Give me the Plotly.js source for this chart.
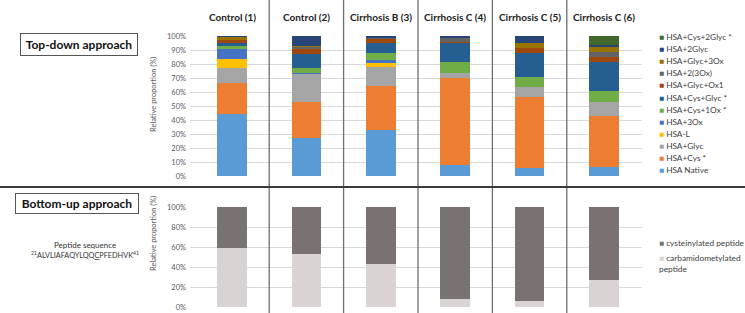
<!DOCTYPE html>
<html>
<head>
<meta charset="utf-8">
<script src="https://cdn.plot.ly/plotly-3.0.1.min.js"></script>
<style>html,body{margin:0;padding:0;background:#fff;}#chart{width:745px;height:313px;}</style>
</head>
<body>
<div id="chart"></div>
<script>
// ---------- DATA ----------
const samples = ["Control (1)", "Control (2)", "Cirrhosis B (3)", "Cirrhosis C (4)", "Cirrhosis C (5)", "Cirrhosis C (6)"];

// Top-down series (bottom of stack first), values in %
const seriesNames = ["HSA Native", "HSA+Cys *", "HSA+Glyc", "HSA-L", "HSA+3Ox", "HSA+Cys+1Ox *",
  "HSA+Cys+Glyc *", "HSA+Glyc+Ox1", "HSA+2(3Ox)", "HSA+Glyc+3Ox", "HSA+2Glyc", "HSA+Cys+2Glyc *"];
const hsaNative    = [44.0, 26.9, 32.9,  7.9,  5.5,  6.2];
const hsaCys       = [22.7, 26.2, 31.6, 61.9, 51.2, 36.7];
const hsaGlyc      = [10.2, 19.8, 13.6,  3.6,  6.7,  9.8];
const hsaL         = [ 6.4,  0.0,  2.9,  0.0,  0.0,  0.0];
const hsa3Ox       = [ 7.2,  1.0,  1.9,  0.0,  0.0,  0.0];
const hsaCys1Ox    = [ 2.6,  3.6,  5.2,  8.3,  7.1,  8.3];
const hsaCysGlyc   = [ 1.7,  9.5,  7.1, 13.1, 17.6, 20.7];
const hsaGlycOx1   = [ 2.0,  3.6,  2.4,  1.1,  3.6,  3.6];
const hsa2x3Ox     = [ 0.7,  1.7,  1.2,  2.4,  0.0,  3.6];
const hsaGlyc3Ox   = [ 2.0,  0.6,  0.0,  0.0,  3.6,  3.6];
const hsa2Glyc     = [ 0.5,  7.1,  1.2,  1.7,  4.7,  1.2];
const hsaCys2Glyc  = [ 0.0,  0.0,  0.0,  0.0,  0.0,  6.3];
const topSeries = [hsaNative, hsaCys, hsaGlyc, hsaL, hsa3Ox, hsaCys1Ox, hsaCysGlyc, hsaGlycOx1, hsa2x3Ox, hsaGlyc3Ox, hsa2Glyc, hsaCys2Glyc];
const topColors = ["#5B9BD5", "#ED7D31", "#A5A5A5", "#FFC000", "#4472C4", "#70AD47",
  "#255E91", "#9E480E", "#636363", "#997300", "#264478", "#43682B"];

// Bottom-up series (%)
const bottomNames = ["carbamidometylated peptide", "cysteinylated peptide"];
const carbamidomethylated = [59, 53, 43, 8, 6, 27];
const cysteinylated       = [41, 47, 57, 92, 94, 73];
const bottomColors = ["#D9D4D3", "#7A7270"];

const topTicks = [0, 10, 20, 30, 40, 50, 60, 70, 80, 90, 100];
const bottomTicks = [0, 20, 40, 60, 80, 100];

// ---------- CHART ----------
const W = 745, H = 313;
const FONT = "Lato, 'Open Sans', sans-serif";
const py = p => (H - p) / H;
const px = p => p / W;

const traces = [];
topSeries.forEach((vals, i) => {
  traces.push({type: "bar", x: samples, y: vals, name: seriesNames[i], xaxis: "x", yaxis: "y",
    marker: {color: topColors[i], line: {width: 0}}, width: 0.4, showlegend: false, hoverinfo: "y+name"});
});
[carbamidomethylated, cysteinylated].forEach((vals, i) => {
  traces.push({type: "bar", x: samples, y: vals, name: bottomNames[i], xaxis: "x2", yaxis: "y2",
    marker: {color: bottomColors[i], line: {width: 0}}, width: 0.4, showlegend: false, hoverinfo: "y+name"});
});

const xr = [-0.5645, 5.511];
const xdom = [px(190), px(642)];
const axisX = {domain: xdom, range: xr, showticklabels: false, showgrid: false, zeroline: false, showline: false, ticks: "", fixedrange: true};
const tickFont = {family: FONT, size: 7.5, color: "#595959"};
const axisY = (dom, ticks) => ({domain: dom, range: [0, 100], tickvals: ticks, ticktext: ticks.map(t => t + "%"),
  showgrid: true, gridcolor: "#D9D9D9", gridwidth: 1, zeroline: false, showline: false, ticks: "",
  tickfont: tickFont, ticklabelstandoff: 3, fixedrange: true});

const annotations = [];
samples.forEach((s, i) => {
  annotations.push({xref: "x", yref: "paper", x: i, y: py(17), text: "<b>" + s + "</b>", showarrow: false,
    font: {family: FONT, size: 10, color: "#222"}, xanchor: "center", yanchor: "middle"});
});
// legend (top), top entry first
for (let k = 0; k < seriesNames.length; k++) {
  const i = seriesNames.length - 1 - k;
  annotations.push({xref: "paper", yref: "paper", x: px(657), y: py(37 + k * 12.12), xanchor: "left", yanchor: "middle",
    showarrow: false, align: "left",
    text: '<span style="color:' + topColors[i] + '">■</span> ' + seriesNames[i],
    font: {family: FONT, size: 8.3, color: "#404040"}});
}
// legend (bottom)
annotations.push({xref: "paper", yref: "paper", x: px(657), y: py(243), xanchor: "left", yanchor: "middle", showarrow: false, align: "left",
  text: '<span style="color:' + bottomColors[1] + '">■</span> ' + bottomNames[1], font: {family: FONT, size: 8.3, color: "#404040"}});
annotations.push({xref: "paper", yref: "paper", x: px(657), y: py(251), xanchor: "left", yanchor: "top", showarrow: false, align: "left",
  text: '<span style="color:' + bottomColors[0] + '">■</span> carbamidometylated<br>peptide', font: {family: FONT, size: 8.3, color: "#404040"}});
// axis titles
annotations.push({xref: "paper", yref: "paper", x: px(154), y: py(95), textangle: -90, showarrow: false,
  text: "Relative proportion (%)", font: {family: FONT, size: 7.5, color: "#595959"}, xanchor: "center", yanchor: "middle"});
annotations.push({xref: "paper", yref: "paper", x: px(154), y: py(234), textangle: -90, showarrow: false,
  text: "Relative proportion (%)", font: {family: FONT, size: 7.5, color: "#595959"}, xanchor: "center", yanchor: "middle"});
// section boxes
annotations.push({xref: "paper", yref: "paper", x: px(79), y: py(45), showarrow: false, xanchor: "center", yanchor: "middle",
  text: "<b>Top-down approach</b>", font: {family: FONT, size: 12, color: "#111"},
  width: 114, height: 19, bordercolor: "#555", borderwidth: 1, borderpad: 1, bgcolor: "#fff"});
annotations.push({xref: "paper", yref: "paper", x: px(76.5), y: py(203), showarrow: false, xanchor: "center", yanchor: "middle",
  text: "<b>Bottom-up approach</b>", font: {family: FONT, size: 12, color: "#111"},
  width: 120, height: 17, bordercolor: "#555", borderwidth: 1, borderpad: 1, bgcolor: "#fff"});
annotations.push({xref: "paper", yref: "paper", x: px(85), y: py(245), showarrow: false, xanchor: "center", yanchor: "middle",
  text: "Peptide sequence", font: {family: FONT, size: 8, color: "#333"}});
annotations.push({xref: "paper", yref: "paper", x: px(85), y: py(254.5), showarrow: false, xanchor: "center", yanchor: "middle",
  text: "<sup>21</sup>ALVLIAFAQYLQQ<u>C</u>PFEDHVK<sup>41</sup>", font: {family: FONT, size: 7.3, color: "#333"}});

const shapes = [];
for (let i = 0; i < samples.length - 1; i++) {
  shapes.push({type: "line", xref: "x", yref: "paper", x0: i + 0.5, x1: i + 0.5, y0: 0, y1: 1,
    line: {color: "#6E6E6E", width: 1.3}, layer: "above"});
}
shapes.push({type: "line", xref: "paper", yref: "paper", x0: 0, x1: 1, y0: py(187), y1: py(187),
  line: {color: "#3A3A3A", width: 2}, layer: "above"});

const layout = {
  width: W, height: H, margin: {l: 0, r: 0, t: 0, b: 0, pad: 0},
  paper_bgcolor: "#fff", plot_bgcolor: "#fff", barmode: "stack", showlegend: false,
  font: {family: FONT},
  xaxis: Object.assign({anchor: "y"}, axisX),
  xaxis2: Object.assign({anchor: "y2", matches: "x"}, axisX),
  yaxis: Object.assign({anchor: "x"}, axisY([py(176), py(36)], topTicks)),
  yaxis2: Object.assign({anchor: "x2"}, axisY([py(307), py(207)], bottomTicks)),
  annotations: annotations, shapes: shapes
};

Plotly.newPlot("chart", traces, layout, {staticPlot: true, displayModeBar: false});
</script>
</body>
</html>
